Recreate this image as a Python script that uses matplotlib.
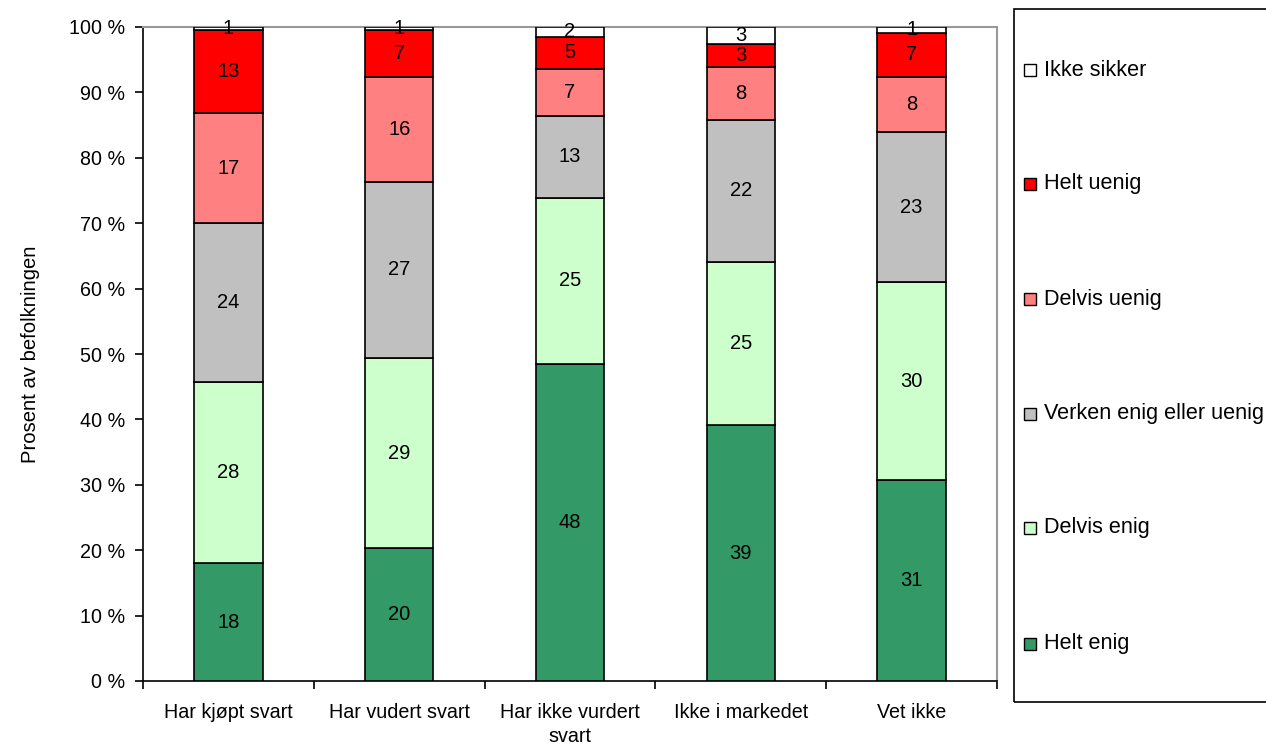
import matplotlib
matplotlib.use("Agg")
import matplotlib.pyplot as plt
from matplotlib.patches import Rectangle
import numpy as np

plt.rcParams['font.family'] = ['Liberation Sans', 'DejaVu Sans']

categories = ["Har kjøpt svart", "Har vudert svart", "Har ikke vurdert\nsvart", "Ikke i markedet", "Vet ikke"]
series_names = ["Helt enig", "Delvis enig", "Verken enig eller uenig", "Delvis uenig", "Helt uenig", "Ikke sikker"]
colors = ["#339966", "#CCFFCC", "#C0C0C0", "#FF8080", "#FF0000", "#FFFFFF"]

# estimated actual segment sizes (percent)
helt_enig      = [18.0, 20.3, 48.5, 39.1, 30.7]
delvis_enig    = [27.7, 29.1, 25.4, 25.0, 30.3]
verken         = [24.3, 26.9, 12.5, 21.7, 22.9]
delvis_uenig   = [16.8, 16.1, 7.2, 8.1, 8.5]
helt_uenig     = [12.7, 7.1, 4.9, 3.5, 6.7]
ikke_sikker    = [0.5, 0.5, 1.5, 2.6, 0.9]

# labels as printed on the chart
lab_helt_enig    = [18, 20, 48, 39, 31]
lab_delvis_enig  = [28, 29, 25, 25, 30]
lab_verken       = [24, 27, 13, 22, 23]
lab_delvis_uenig = [17, 16, 7, 8, 8]
lab_helt_uenig   = [13, 7, 5, 3, 7]
lab_ikke_sikker  = [1, 1, 2, 3, 1]

values = [helt_enig, delvis_enig, verken, delvis_uenig, helt_uenig, ikke_sikker]
labels = [lab_helt_enig, lab_delvis_enig, lab_verken, lab_delvis_uenig, lab_helt_uenig, lab_ikke_sikker]

fig = plt.figure(figsize=(12.66, 7.47), dpi=100)
ax = fig.add_axes([143/1266, 1-681/747, 854/1266, 654/747])

x = np.arange(len(categories))
data = np.array(values, dtype=float)
data = data / data.sum(axis=0) * 100
bottom = np.zeros(len(categories))
fs_lab = 14.5
fs_tick = 14.2
fs_leg = 15.6
for i, name in enumerate(series_names):
    ax.bar(x, data[i], bottom=bottom, width=0.40, color=colors[i],
           edgecolor="black", linewidth=1.2, label=name, zorder=3)
    for xi, b, h, lab in zip(x, bottom, data[i], labels[i]):
        ax.text(xi, b + h / 2, str(lab), ha="center", va="center", fontsize=fs_lab, zorder=4)
    bottom += data[i]

ax.set_xlim(-0.5, len(categories) - 0.5)
ax.set_ylim(0, 100)
ax.set_yticks(np.arange(0, 101, 10))
ax.set_yticklabels([f"{v} %" for v in range(0, 101, 10)], fontsize=fs_tick)
ax.set_xticks(x)
ax.set_xticklabels(categories, fontsize=fs_tick, linespacing=1.3)
ax.set_xticks(np.arange(-0.5, len(categories), 1), minor=True)
ax.tick_params(axis="x", which="major", length=0, pad=16)
ax.tick_params(axis="x", which="minor", length=6, direction="out", width=1.2)
ax.tick_params(axis="y", length=6, direction="out", width=1.2, pad=7)
for s in ["left", "bottom"]:
    ax.spines[s].set_color("black")
    ax.spines[s].set_linewidth(1.2)
for s in ["top", "right"]:
    ax.spines[s].set_color("#999999")
    ax.spines[s].set_linewidth(1.5)
ax.set_ylabel("Prosent av befolkningen", fontsize=14.6, labelpad=21)

# legend box (drawn manually to match the original layout)
fig.add_artist(Rectangle((1014/1266, 1-702/747), 0.3, (702-9)/747,
                         transform=fig.transFigure, fill=False,
                         edgecolor="black", linewidth=1.2))
ys = [70, 184, 299, 414, 528, 644]
for i, yp in zip(range(len(series_names) - 1, -1, -1), ys):
    fig.add_artist(Rectangle((1024/1266, 1-(yp+6)/747), 12/1266, 12/747,
                             transform=fig.transFigure, facecolor=colors[i],
                             edgecolor="black", linewidth=1.0))
    fig.text(1044/1266, 1-yp/747, series_names[i], fontsize=fs_leg, va="center", ha="left")

fig.savefig("out.png", dpi=100)
